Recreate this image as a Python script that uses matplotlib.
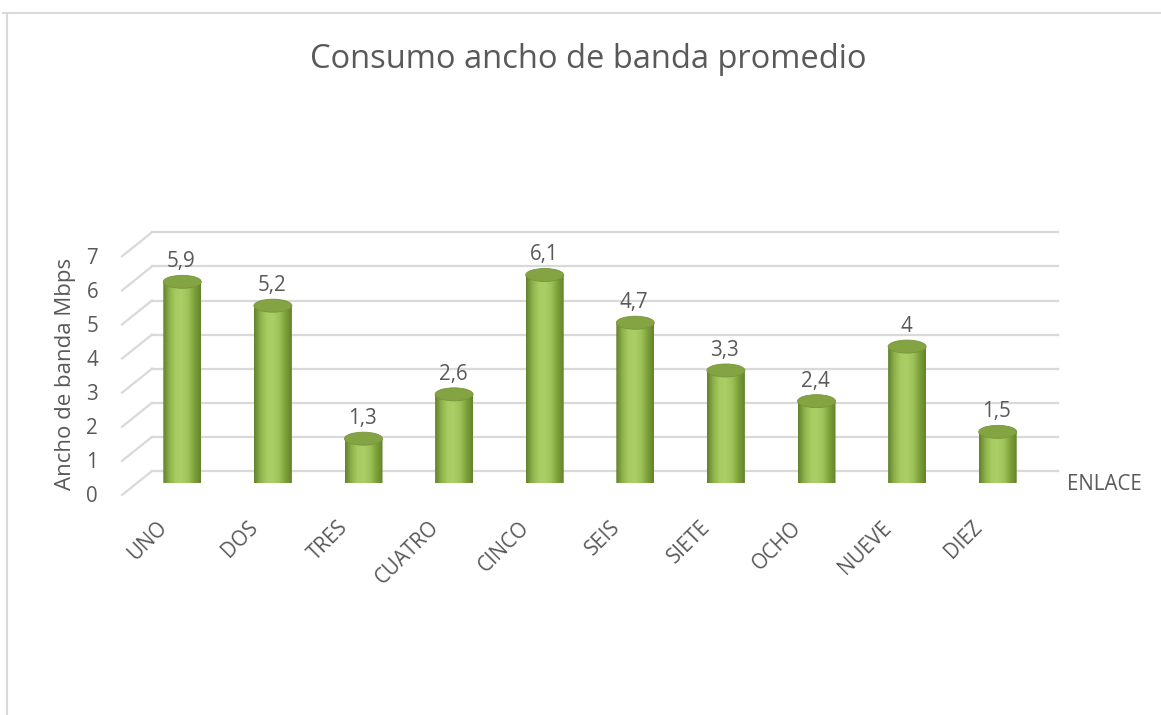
import numpy as np
import matplotlib
matplotlib.use("Agg")
import matplotlib.pyplot as plt
from matplotlib.transforms import offset_copy
from matplotlib.patches import Ellipse, PathPatch
from matplotlib.path import Path
from matplotlib.colors import LinearSegmentedColormap

categories = ["UNO", "DOS", "TRES", "CUATRO", "CINCO", "SEIS", "SIETE", "OCHO", "NUEVE", "DIEZ"]
values = [5.9, 5.2, 1.3, 2.6, 6.1, 4.7, 3.3, 2.4, 4.0, 1.5]
value_labels = ["5,9", "5,2", "1,3", "2,6", "6,1", "4,7", "3,3", "2,4", "4", "1,5"]
yticks = [0, 1, 2, 3, 4, 5, 6, 7]
title = "Consumo ancho de banda promedio"
ylabel = "Ancho de banda Mbps"
xlabel = "ENLACE"

plt.rcParams['font.family'] = ['Open Sans', 'DejaVu Sans']
TXT = "#595959"
GRID = "#d9d9d9"
FS = 14.8

W, H = 1161, 715
fig = plt.figure(figsize=(W / 100, H / 100), dpi=100)

# mid-plane axes (where cylinders stand), pixel layout
left_px, right_px = 137, 1043
y0_px, y7_px = 483, 244.3
ax = fig.add_axes([left_px / W, (H - y0_px) / H, (right_px - left_px) / W, (y0_px - y7_px) / H])
ax.set_xlim(-0.5, 9.5)
ax.set_ylim(0, 7)
ax.axis("off")

# depth offsets (pixels)
DX, DY = 15, 12
px_per_x = (right_px - left_px) / 10.0
px_per_y = (y0_px - y7_px) / 7.0
dxd = DX / px_per_x
dyd = DY / px_per_y

# chart border
fig.add_artist(plt.Line2D([3 / W, 1.0], [1 - 13 / H, 1 - 13 / H], color=GRID, lw=1.5, transform=fig.transFigure))
fig.add_artist(plt.Line2D([7 / W, 7 / W], [1 - 13 / H, 0], color=GRID, lw=1.5, transform=fig.transFigure))

# gridlines: back wall + diagonal side
for v in yticks:
    ax.plot([-0.5 + dxd, 9.5 + dxd], [v + dyd, v + dyd], color=GRID, lw=1.6, clip_on=False, zorder=1)
    ax.plot([-0.5 - dxd, -0.5 + dxd], [v - dyd, v + dyd], color=GRID, lw=1.6, clip_on=False, zorder=1)

# y tick labels at front plane
ytr = offset_copy(ax.transData, fig=fig, x=-39, y=-14, units='dots')
for v in yticks:
    ax.text(-0.5, v, str(v), transform=ytr, ha='right', va='center', fontsize=FS, color=TXT)

# cylinders
cmap = LinearSegmentedColormap.from_list(
    "cyl", ["#62802b", "#8cb14a", "#a8cc62", "#abcf66", "#9dc259", "#7ba038", "#64822c"])
grad = np.linspace(0, 1, 256).reshape(1, -1)
bw = 38 / px_per_x
eh = 6.5 / px_per_y  # ellipse half height in data units
for i, v in enumerate(values):
    x0, x1 = i - bw / 2, i + bw / 2
    t = np.linspace(np.pi, 2 * np.pi, 40)
    bx = i + (bw / 2) * np.cos(t)
    by = eh * np.sin(t)
    verts = [(x0, v)] + list(zip(bx, by)) + [(x1, v), (x0, v)]
    codes = [Path.MOVETO] + [Path.LINETO] * (len(verts) - 2) + [Path.CLOSEPOLY]
    body = PathPatch(Path(verts, codes), facecolor='none', edgecolor='none')
    ax.add_patch(body)
    im = ax.imshow(grad, cmap=cmap, extent=[x0, x1, -eh, v], aspect='auto', zorder=3, interpolation='bicubic')
    im.set_clip_path(body)
    cap = Ellipse((i, v), bw, 2 * eh, facecolor="#84a443", edgecolor="#76953a", lw=0.6, zorder=4)
    ax.add_patch(cap)
    ltr = offset_copy(ax.transData, fig=fig, x=-1, y=6.5 + 3, units='dots')
    ax.text(i, v, value_labels[i], transform=ltr, ha='center', va='bottom', fontsize=FS, color=TXT, zorder=5)

ax.set_xlim(-0.5, 9.5)
ax.set_ylim(0, 7)

# category labels
xtr = offset_copy(ax.transData, fig=fig, x=-11, y=-34, units='dots')
for i, c in enumerate(categories):
    ax.text(i, 0, c, transform=xtr, ha='right', va='top', rotation=45, fontsize=FS, color=TXT)

# axis title for categories
etr = offset_copy(ax.transData, fig=fig, x=24, y=-1, units='dots')
ax.text(9.5, 0, xlabel, transform=etr, ha='left', va='center', fontsize=FS, color=TXT)

# y label
fig.text(66 / W, 1 - 374 / H, ylabel, rotation=90, ha='center', va='center', fontsize=16, color=TXT)

# title
fig.text(588 / W, 1 - 60 / H, title, ha='center', va='center', fontsize=23.5, color=TXT)

fig.savefig("out.png", dpi=100, facecolor='white')
